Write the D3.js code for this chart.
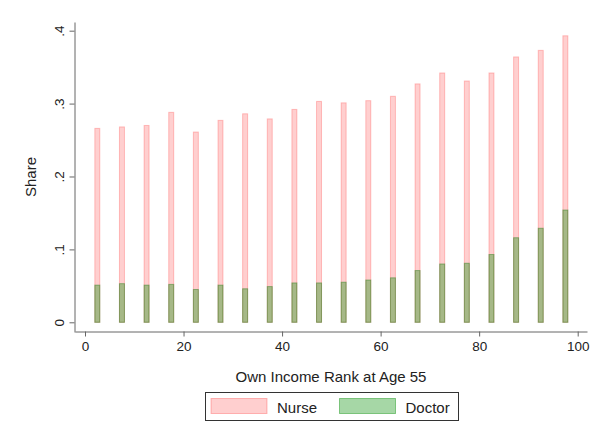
<!DOCTYPE html>
<html>
<head>
<meta charset="utf-8">
<script src="https://cdn.jsdelivr.net/npm/d3@7"></script>
<style>
  html, body { margin: 0; padding: 0; background: #fff; }
  svg { display: block; font-family: "Liberation Sans", Arial, sans-serif; }
</style>
</head>
<body>
<svg id="chart" width="599" height="437"></svg>
<script>
// Income-rank bins (midpoints of 5-point bins)
const rankBins = [2.5, 7.5, 12.5, 17.5, 22.5, 27.5, 32.5, 37.5, 42.5, 47.5,
                  52.5, 57.5, 62.5, 67.5, 72.5, 77.5, 82.5, 87.5, 92.5, 97.5];
// Share of spouses who are nurses / doctors
const nurseShare = [0.266, 0.268, 0.270, 0.288, 0.261, 0.277, 0.286, 0.279, 0.292, 0.303,
                    0.301, 0.304, 0.310, 0.327, 0.342, 0.331, 0.342, 0.364, 0.373, 0.393];
const doctorShare = [0.051, 0.053, 0.051, 0.052, 0.045, 0.051, 0.046, 0.049, 0.054, 0.054,
                     0.055, 0.058, 0.061, 0.071, 0.080, 0.081, 0.093, 0.116, 0.129, 0.154];
const yTicks = [0, 0.1, 0.2, 0.3, 0.4];
const yTickLabels = ["0", ".1", ".2", ".3", ".4"];
const xTicks = [0, 20, 40, 60, 80, 100];
const seriesNames = ["Nurse", "Doctor"];

const nurseFill = "rgba(255,0,0,0.19)", nurseStroke = "rgba(255,0,0,0.22)";
const doctorFill = "rgba(0,140,0,0.35)", doctorStroke = "rgba(0,115,0,0.38)";

const svg = d3.select("#chart");

const x = d3.scaleLinear().domain([-2.03, 101.89]).range([75, 587]);
const y = d3.scaleLinear().domain([-0.0133, 0.4119]).range([332, 22]);
const barW = 5;

// Nurse bars (drawn first), doctor bars overlaid
svg.append("g").selectAll("rect").data(rankBins).join("rect")
  .attr("x", d => x(d) - barW / 2)
  .attr("width", barW)
  .attr("y", (d, i) => y(nurseShare[i]))
  .attr("height", (d, i) => y(0) - y(nurseShare[i]))
  .attr("fill", nurseFill)
  .attr("stroke", nurseStroke)
  .attr("stroke-width", 1);

svg.append("g").selectAll("rect").data(rankBins).join("rect")
  .attr("x", d => x(d) - barW / 2)
  .attr("width", barW)
  .attr("y", (d, i) => y(doctorShare[i]))
  .attr("height", (d, i) => y(0) - y(doctorShare[i]))
  .attr("fill", doctorFill)
  .attr("stroke", doctorStroke)
  .attr("stroke-width", 1);

// Y axis
const yAxis = svg.append("g")
  .attr("transform", "translate(74.5,0)")
  .call(d3.axisLeft(y).tickValues(yTicks).tickFormat((d, i) => yTickLabels[i])
        .tickSize(5).tickSizeOuter(0).tickPadding(3));
yAxis.select(".domain").attr("stroke", "#666");
yAxis.selectAll(".tick line").attr("stroke", "#666");
yAxis.selectAll(".tick text")
  .attr("font-size", 13.5).attr("fill", "#222")
  .attr("text-anchor", "middle")
  .attr("x", null).attr("dy", null)
  .attr("transform", "translate(-11,0) rotate(-90)");

// X axis
const xAxis = svg.append("g")
  .attr("transform", "translate(0,331.5)")
  .call(d3.axisBottom(x).tickValues(xTicks).tickSize(5).tickSizeOuter(0).tickPadding(5));
xAxis.select(".domain").attr("stroke", "#666");
xAxis.selectAll(".tick line").attr("stroke", "#666");
xAxis.selectAll(".tick text").attr("font-size", 13.5).attr("fill", "#222");

// Axis titles
svg.append("text")
  .attr("x", (75 + 587) / 2).attr("y", 382)
  .attr("text-anchor", "middle").attr("font-size", 15).attr("fill", "#222")
  .text("Own Income Rank at Age 55");

svg.append("text")
  .attr("transform", "translate(36,177) rotate(-90)")
  .attr("text-anchor", "middle").attr("font-size", 15).attr("fill", "#222")
  .text("Share");

// Legend
const legend = svg.append("g");
legend.append("rect")
  .attr("x", 205.5).attr("y", 392.5).attr("width", 253).attr("height", 28)
  .attr("fill", "#fff").attr("stroke", "#333").attr("stroke-width", 1);
const legendFills = [nurseFill, doctorFill];
const legendStrokes = ["rgba(255,0,0,0.25)", "rgba(0,140,0,0.42)"];
const swatchX = [211, 339.5];
seriesNames.forEach((name, i) => {
  legend.append("rect")
    .attr("x", swatchX[i]).attr("y", 398.5).attr("width", 56).attr("height", 15)
    .attr("fill", legendFills[i]).attr("stroke", legendStrokes[i]);
  legend.append("text")
    .attr("x", swatchX[i] + 66).attr("y", 412.5)
    .attr("font-size", 15).attr("fill", "#222")
    .text(name);
});
</script>
</body>
</html>
